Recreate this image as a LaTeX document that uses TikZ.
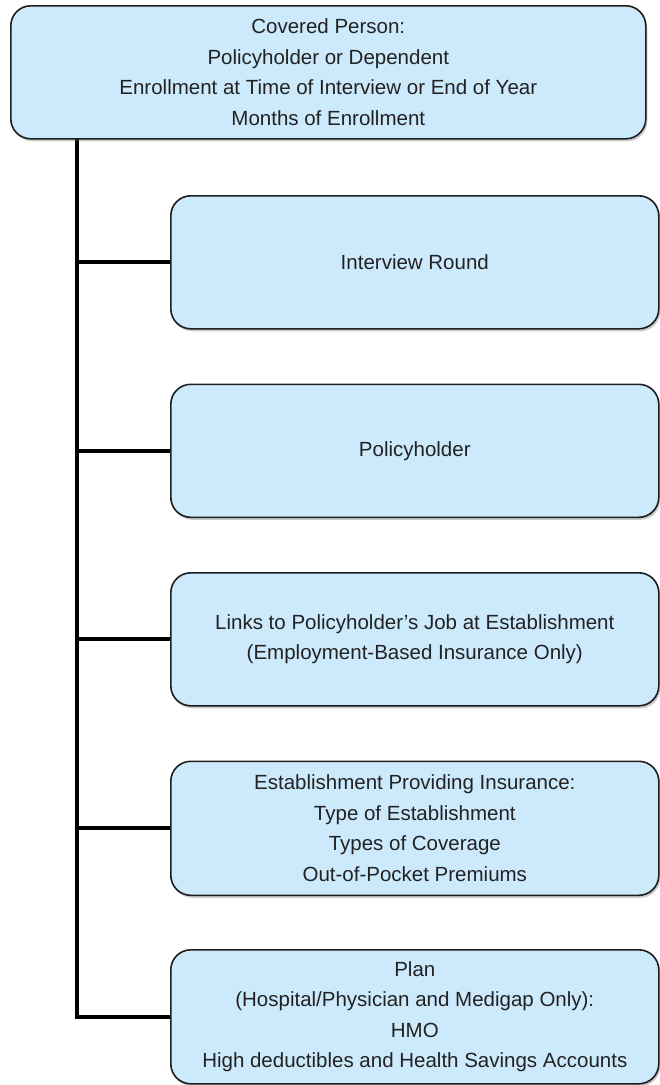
\documentclass[tikz,border=0pt]{standalone}
\usepackage{fontspec}
\setmainfont{Liberation Sans}
\usetikzlibrary{shadows,backgrounds}
\definecolor{boxfill}{RGB}{204,234,252}
\definecolor{boxline}{RGB}{30,30,30}
\definecolor{txt}{RGB}{34,34,34}
\begin{document}
\begin{tikzpicture}[x=1pt,y=-1pt,
  infobox/.style={draw=boxline,line width=1.6pt,fill=boxfill,rounded corners=20pt,
    anchor=north west,inner sep=0pt,align=center,text=txt,
    font=\fontsize{20.5}{30.5}\selectfont,
    drop shadow={shadow xshift=1.5pt,shadow yshift=-2.5pt,opacity=0.35,fill=black!60}},
  link/.style={line width=4pt,black}]
\useasboundingbox (0,0) rectangle (660,1085);
\node[infobox,minimum width=635pt,minimum height=133pt] (top) at (10,5)
  {Covered Person:\\Policyholder or Dependent\\Enrollment at Time of Interview or End of Year\\Months of Enrollment};
\node[infobox,minimum width=488pt,minimum height=133pt] (b2) at (170,195) {Interview Round};
\node[infobox,minimum width=488pt,minimum height=133pt] (b3) at (170,383.5) {Policyholder};
\node[infobox,minimum width=488pt,minimum height=133pt] (b4) at (170,572)
  {Links to Policyholder’s Job at Establishment\\(Employment-Based Insurance Only)};
\node[infobox,minimum width=488pt,minimum height=134pt] (b5) at (170,760.5)
  {Establishment Providing Insurance:\\Type of Establishment\\Types of Coverage\\Out-of-Pocket Premiums};
\node[infobox,minimum width=488pt,minimum height=134pt] (b6) at (170,949)
  {Plan\\(Hospital/Physician and Medigap Only):\\HMO\\High deductibles and Health Savings Accounts};
\coordinate (trunk) at (77,138);
\begin{scope}[on background layer]
\draw[link] (trunk) |- (b6.west);
\draw[link] (b2.west) -- (b2.west -| trunk);
\draw[link] (b3.west) -- (b3.west -| trunk);
\draw[link] (b4.west) -- (b4.west -| trunk);
\draw[link] (b5.west) -- (b5.west -| trunk);
\end{scope}
\end{tikzpicture}
\end{document}
